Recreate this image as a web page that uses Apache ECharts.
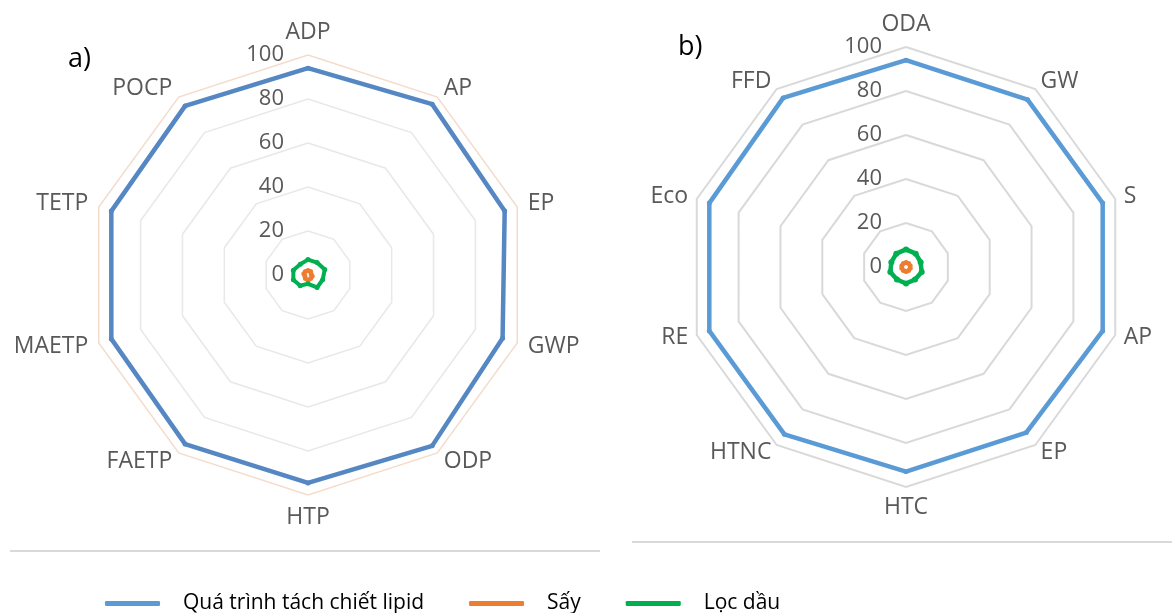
<!DOCTYPE html>
<html><head><meta charset="utf-8">
<script src="https://cdn.jsdelivr.net/npm/echarts@6/dist/echarts.min.js"></script>
<style>html,body{margin:0;padding:0;background:#fff}#c{width:1172px;height:613px}</style>
</head><body><div id="c"></div>
<script>
// ---- data ----
const seriesNames = ['Quá trình tách chiết lipid', 'Sấy', 'Lọc dầu'];
const axisMax = 100;
const tickInterval = 20;

const catsA = ['ADP', 'AP', 'EP', 'GWP', 'ODP', 'HTP', 'FAETP', 'MAETP', 'TETP', 'POCP'];
const lipidA = [94, 96, 94, 93, 96, 94.5, 95, 94, 94, 95];
const sayA   = [2, 2, 1.5, 2, 2, 2.5, 2, 1.5, 2, 2];
const locA   = [7, 7, 8, 7, 7, 4, 6, 7, 7, 6];

const catsB = ['ODA', 'GW', 'S', 'AP', 'EP', 'HTC', 'HTNC', 'RE', 'Eco', 'FFD'];
const lipidB = [94, 94, 94, 94, 93, 93, 94, 94, 94, 95];
const sayB   = [2, 2, 2, 2, 2, 2, 2, 2, 2, 2];
const locB   = [8, 7.5, 7, 7.5, 7, 7.5, 7, 7.5, 7, 7.5];

// ---- helpers: ECharts radar runs counter-clockwise; the reference runs clockwise ----
function cw(arr) { return [arr[0]].concat(arr.slice(1).reverse()); }

const FONT = 'Open Sans';
const labelGray = '#595959';

function indicators(cats) {
  return cw(cats).map((c, i) => {
    const o = { name: c, min: 0, max: axisMax };
    if (i === 0) {
      o.axisLabel = { show: true, color: labelGray, fontSize: 22, fontFamily: FONT, margin: 24 };
    }
    return o;
  });
}

const colorsA = ['#5587c3', '#ed7d31', '#00b050'];
const colorsB = ['#5b9bd5', '#ed7d31', '#00b050'];

function radarSeries(radarIndex, data, colors, widths, sizes) {
  return data.map((vals, i) => ({
    type: 'radar',
    radarIndex: radarIndex,
    name: seriesNames[i],
    symbol: 'circle',
    symbolSize: sizes[i],
    silent: true,
    lineStyle: { color: colors[i], width: widths[i] },
    itemStyle: { color: colors[i] },
    data: [{ value: cw(vals), name: seriesNames[i] }]
  }));
}

const chart = echarts.init(document.getElementById('c'));
chart.setOption({
  animation: false,
  backgroundColor: '#fff',
  legend: {
    left: 100, top: 588,
    itemWidth: 55, itemHeight: 5, itemGap: 45,
    icon: 'roundRect',
    selectedMode: false,
    textStyle: { fontSize: 21, color: '#000', fontFamily: FONT, padding: [0, 0, 0, 18] },
    data: seriesNames.map((n, i) => ({ name: n, itemStyle: { color: colorsB[i] } }))
  },
  radar: [
    {
      center: [308, 275], radius: 220, startAngle: 90,
      splitNumber: axisMax / tickInterval, shape: 'polygon',
      indicator: indicators(catsA),
      axisName: { color: labelGray, fontSize: 23, fontFamily: FONT },
      nameGap: 11,
      axisLine: { show: false },
      axisTick: { show: false },
      splitArea: { show: false },
      splitLine: { lineStyle: { color: ['#e8e8e8', '#e8e8e8', '#e8e8e8', '#e8e8e8', '#e8e8e8', '#f4dccd'], width: 1.5 } }
    },
    {
      center: [906, 267], radius: 220, startAngle: 90,
      splitNumber: axisMax / tickInterval, shape: 'polygon',
      indicator: indicators(catsB),
      axisName: { color: labelGray, fontSize: 23, fontFamily: FONT },
      nameGap: 9,
      axisLine: { show: false },
      axisTick: { show: false },
      splitArea: { show: false },
      splitLine: { lineStyle: { color: '#d9d9d9', width: 2 } }
    }
  ],
  graphic: [
    { type: 'text', left: 68, top: 46, style: { text: 'a)', fontSize: 27, fill: '#000', fontFamily: FONT } },
    { type: 'text', left: 678, top: 34, style: { text: 'b)', fontSize: 27, fill: '#000', fontFamily: FONT } },
    { type: 'line', shape: { x1: 10, y1: 551, x2: 600, y2: 551 }, style: { stroke: '#d9d9d9', lineWidth: 2 } },
    { type: 'line', shape: { x1: 632, y1: 542, x2: 1172, y2: 542 }, style: { stroke: '#d9d9d9', lineWidth: 2 } }
  ],
  series: [].concat(
    radarSeries(1, [lipidB, sayB, locB], colorsB, [4.5, 3, 4.5], [5, 5, 6]),
    radarSeries(0, [lipidA, sayA, locA], colorsA, [4.5, 3, 4], [5, 5, 5])
  )
});
</script>
</body></html>
